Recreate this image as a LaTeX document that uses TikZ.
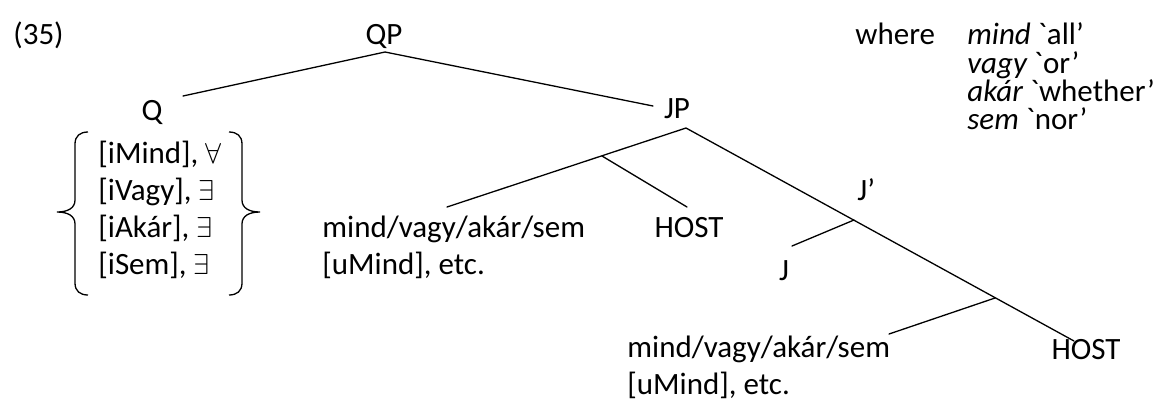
\documentclass[tikz,border=0pt]{standalone}
\usepackage{fontspec}
\newfontfamily\carl{Carlito}
\begin{document}
\begin{tikzpicture}[x=0.5pt,y=-0.5pt,
  txt/.style={inner sep=0pt, font={\carl\fontsize{15.5}{18}\selectfont}},
  branch/.style={line width=0.65pt, line cap=round},
  bracestyle/.style={line width=0.65pt}]
\useasboundingbox (0,0) rectangle (1165,403);
% top row
\node[txt, anchor=base west] (ex) at (13,44) {(35)};
\node[txt, anchor=base] (QP) at (384,44) {QP};
\node[txt, anchor=base west] (where) at (855,44) {where};
\node[txt, anchor=base west] (g1) at (967,44) {\itshape mind\upshape{} `all’};
\node[txt, anchor=base west] (g2) at (967,73) {\itshape vagy\upshape{} `or’};
\node[txt, anchor=base west] (g3) at (967,101) {\itshape akár\upshape{} `whether’};
\node[txt, anchor=base west] (g4) at (967,129) {\itshape sem\upshape{} `nor’};
% Q and its features
\node[txt, anchor=base] (Q) at (152,120) {Q};
\node[txt, anchor=base west] (f1) at (98,163) {[iMind], $\forall$};
\node[txt, anchor=base west] (f2) at (98,200) {[iVagy], $\exists$};
\node[txt, anchor=base west] (f3) at (98,237) {[iAkár], $\exists$};
\node[txt, anchor=base west] (f4) at (98,274) {[iSem], $\exists$};
\draw[bracestyle] (88,132) .. controls (80,132) and (75,136) .. (75,144) -- (75,200)
  .. controls (75,208) and (68,212) .. (57,212) .. controls (68,212) and (75,216) .. (75,224)
  -- (75,283) .. controls (75,291) and (80,295) .. (88,295);
\draw[bracestyle] (229,132) .. controls (237,132) and (242,136) .. (242,144) -- (242,200)
  .. controls (242,208) and (249,212) .. (260,212) .. controls (249,212) and (242,216) .. (242,224)
  -- (242,283) .. controls (242,291) and (237,295) .. (229,295);
% JP subtree
\node[txt, anchor=base] (JP) at (677,118) {JP};
\node[txt, anchor=base west] (m1) at (322,237) {mind/vagy/akár/sem};
\node[txt, anchor=base west] (u1) at (322,274) {[uMind], etc.};
\node[txt, anchor=base] (H1) at (689,237) {HOST};
\node[txt, anchor=base west] (Jbar) at (857,200) {J’};
\node[txt, anchor=base] (J) at (784,280) {J};
\node[txt, anchor=base west] (m2) at (627,357) {mind/vagy/akár/sem};
\node[txt, anchor=base west] (u2) at (627,394) {[uMind], etc.};
\node[txt, anchor=base] (H2) at (1086,359) {HOST};
% connector end points
\coordinate (QPb) at (385,52);
\coordinate (Qt) at (183,96);
\coordinate (JPt) at (653,106);
\coordinate (JPb) at (686,128);
\coordinate (m1t) at (447,207);
\coordinate (b1) at (602,156);
\coordinate (H1t) at (687,207);
\coordinate (jb) at (854,220);
\coordinate (Jt) at (792,246);
\coordinate (b2) at (995,298);
\coordinate (m2t) at (889,334);
\coordinate (H2t) at (1074,341);
% connectors
\draw[branch] (Qt) -- (QPb) -- (JPt);
\draw[branch] (m1t) -- (JPb) -- (H2t);
\draw[branch] (b1) -- (H1t);
\draw[branch] (jb) -- (Jt);
\draw[branch] (b2) -- (m2t);
\end{tikzpicture}
\end{document}
